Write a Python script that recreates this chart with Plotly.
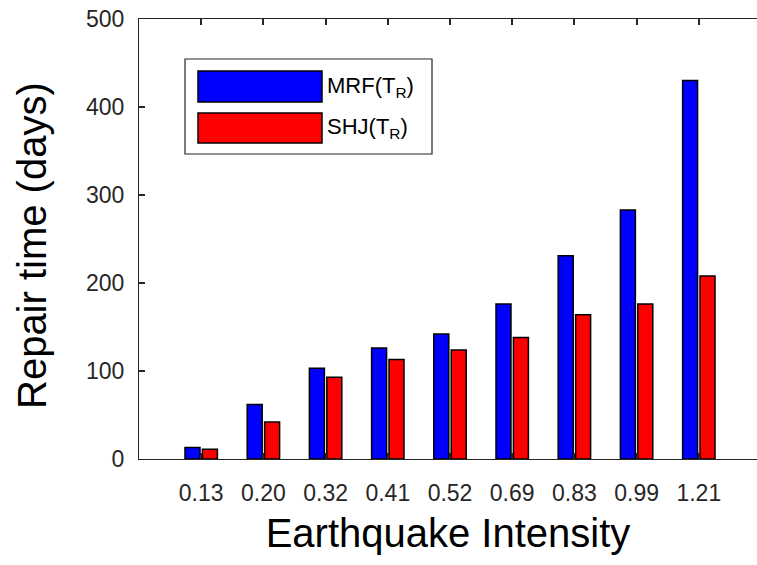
import plotly.graph_objects as go

# Earthquake intensity levels (category labels on the x axis)
intensity = ["0.13", "0.20", "0.32", "0.41", "0.52", "0.69", "0.83", "0.99", "1.21"]

# Repair time in days for each structural system
mrf_repair = [13, 62, 103, 126, 142, 176, 231, 283, 430]
shj_repair = [11, 42, 93, 113, 124, 138, 164, 176, 208]

series_names = ["MRF(T<sub>R</sub>)", "SHJ(T<sub>R</sub>)"]
series_colors = ["#0000FF", "#FF0000"]

W, H = 757, 565
ML, MR, MT, MB = 139, 0, 19, 106
PW, PH = W - ML - MR, H - MT - MB
FONT = "Liberation Sans, Arial, Helvetica, sans-serif"
AXIS_GRAY = "#262626"
X_RANGE = [-1, 9 - 4 / 62.2]


def px_to_paper(x, y):
    """Convert pixel position on the page to paper coordinates."""
    return (x - ML) / PW, (H - MB - y) / PH


fig = go.Figure()
for name, vals, col in zip(series_names, [mrf_repair, shj_repair], series_colors):
    fig.add_trace(go.Bar(
        x=intensity, y=vals, name=name,
        marker=dict(color=col, line=dict(color="black", width=1.5)),
        showlegend=False,
    ))

# Hand-built legend box with wide colour swatches
shapes = []
annotations = []
x0, y0 = px_to_paper(185, 154)
x1, y1 = px_to_paper(432, 59)
shapes.append(dict(type="rect", xref="paper", yref="paper", x0=x0, y0=y0, x1=x1, y1=y1,
                   line=dict(color=AXIS_GRAY, width=1.2), fillcolor="white", layer="above"))
for (top, bot), name, col in zip([(71, 102), (113, 143)], series_names, series_colors):
    sx0, sy0 = px_to_paper(198, bot)
    sx1, sy1 = px_to_paper(322, top)
    shapes.append(dict(type="rect", xref="paper", yref="paper", x0=sx0, y0=sy0, x1=sx1, y1=sy1,
                       line=dict(color="black", width=1.5), fillcolor=col, layer="above"))
    tx, ty = px_to_paper(325, (top + bot) / 2)
    annotations.append(dict(xref="paper", yref="paper", x=tx, y=ty, text=name,
                            showarrow=False, xanchor="left", yanchor="middle",
                            font=dict(family=FONT, size=22, color="black")))

# y-axis title placed to the far left of the tick labels
ytx, yty = px_to_paper(32, 246)
annotations.append(dict(xref="paper", yref="paper", x=ytx, y=yty, text="Repair time (days)",
                        textangle=-90, showarrow=False, xanchor="center", yanchor="middle",
                        font=dict(family=FONT, size=40, color="black")))

tick_style = dict(ticks="inside", ticklen=6, tickcolor=AXIS_GRAY, tickwidth=1.5)

fig.update_layout(
    width=W, height=H,
    margin=dict(l=ML, r=MR, t=MT, b=MB, pad=0),
    paper_bgcolor="white", plot_bgcolor="white",
    barmode="group", bargap=0.44, bargroupgap=0.14,
    shapes=shapes, annotations=annotations,
    font=dict(family=FONT, color=AXIS_GRAY),
    xaxis=dict(
        type="category", range=X_RANGE,
        showline=True, linecolor=AXIS_GRAY, linewidth=1.3, mirror="ticks",
        showgrid=False, zeroline=False,
        tickfont=dict(size=23, color=AXIS_GRAY), ticklabelstandoff=13,
        title=dict(text="Earthquake Intensity", font=dict(size=40, color="black"), standoff=14),
        **tick_style,
    ),
    yaxis=dict(
        range=[0, 500], tickvals=[0, 100, 200, 300, 400, 500],
        showline=True, linecolor=AXIS_GRAY, linewidth=1.3,
        showgrid=False, zeroline=False,
        tickfont=dict(size=23, color=AXIS_GRAY), ticklabelstandoff=9,
        **tick_style,
    ),
)

fig.write_html("out.html")
